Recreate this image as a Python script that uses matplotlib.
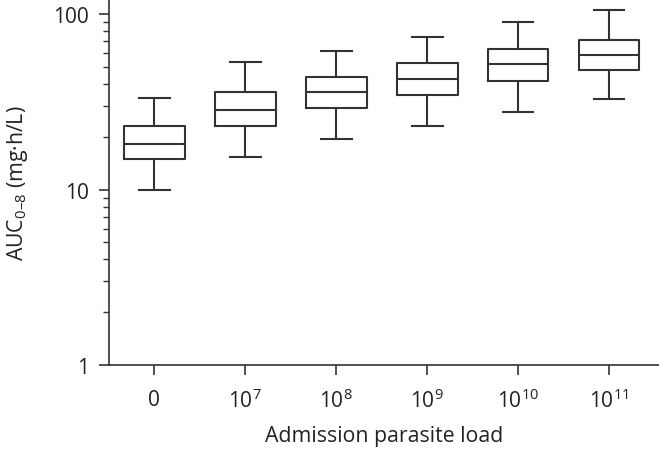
import matplotlib
matplotlib.use("Agg")
import matplotlib.pyplot as plt
from matplotlib.ticker import LogLocator, NullFormatter, FixedLocator, FixedFormatter

plt.rcParams['font.family'] = ['Open Sans', 'DejaVu Sans']
plt.rcParams['mathtext.fontset'] = 'custom'
plt.rcParams['mathtext.rm'] = 'Open Sans'
plt.rcParams['mathtext.it'] = 'Open Sans:italic'
plt.rcParams['mathtext.default'] = 'regular'

categories = ['0', '$10^{7}$', '$10^{8}$', '$10^{9}$', '$10^{10}$', '$10^{11}$']
whislo = [10.0, 15.3, 19.5, 23.1, 27.8, 32.8]
q1 = [14.9, 23.2, 29.0, 34.8, 41.8, 47.8]
med = [18.2, 28.4, 36.0, 42.8, 51.9, 58.6]
q3 = [22.9, 35.8, 44.1, 52.4, 63.5, 71.4]
whishi = [33.4, 53.3, 61.6, 73.8, 90.3, 106.2]

stats = []
for i, c in enumerate(categories):
    stats.append(dict(label=c, whislo=whislo[i], q1=q1[i], med=med[i],
                      q3=q3[i], whishi=whishi[i], fliers=[]))

col = '#333333'
fig = plt.figure(figsize=(6.59, 4.52), dpi=100)
ax = fig.add_axes([0.165, 0.19, 0.835, 0.81])
ax.bxp(stats, positions=range(len(categories)), widths=0.67, showfliers=False,
       boxprops=dict(color=col, linewidth=1.5),
       medianprops=dict(color=col, linewidth=1.5),
       whiskerprops=dict(color=col, linewidth=1.5),
       capprops=dict(color=col, linewidth=1.5),
       capwidths=0.34)

ax.set_yscale('log')
ax.set_ylim(1, 122)
ax.set_xlim(-0.5, 5.55)
ax.yaxis.set_major_locator(FixedLocator([1, 10, 100]))
ax.yaxis.set_major_formatter(FixedFormatter(['1', '10', '100']))
ax.yaxis.set_minor_locator(LogLocator(base=10, subs=range(2, 10)))
ax.yaxis.set_minor_formatter(NullFormatter())
ax.set_xticks(range(len(categories)))
ax.set_xticklabels(categories)

for s in ['top', 'right']:
    ax.spines[s].set_visible(False)
for s in ['left', 'bottom']:
    ax.spines[s].set_color(col)
    ax.spines[s].set_linewidth(1.2)

ax.tick_params(axis='both', which='major', length=7, width=1.2, color=col,
               labelsize=15, labelcolor='#222222', pad=7)
ax.tick_params(axis='y', which='minor', length=4, width=1.0, color=col)
ax.tick_params(axis='x', which='major', pad=10)

ax.set_xlabel('Admission parasite load', fontsize=15.3, color='#222222', labelpad=9)
ax.set_ylabel('AUC$_{0\u20138}$ (mg\u00b7h/L)', fontsize=15.3, color='#222222', labelpad=17)

fig.savefig('out.png', dpi=100)
